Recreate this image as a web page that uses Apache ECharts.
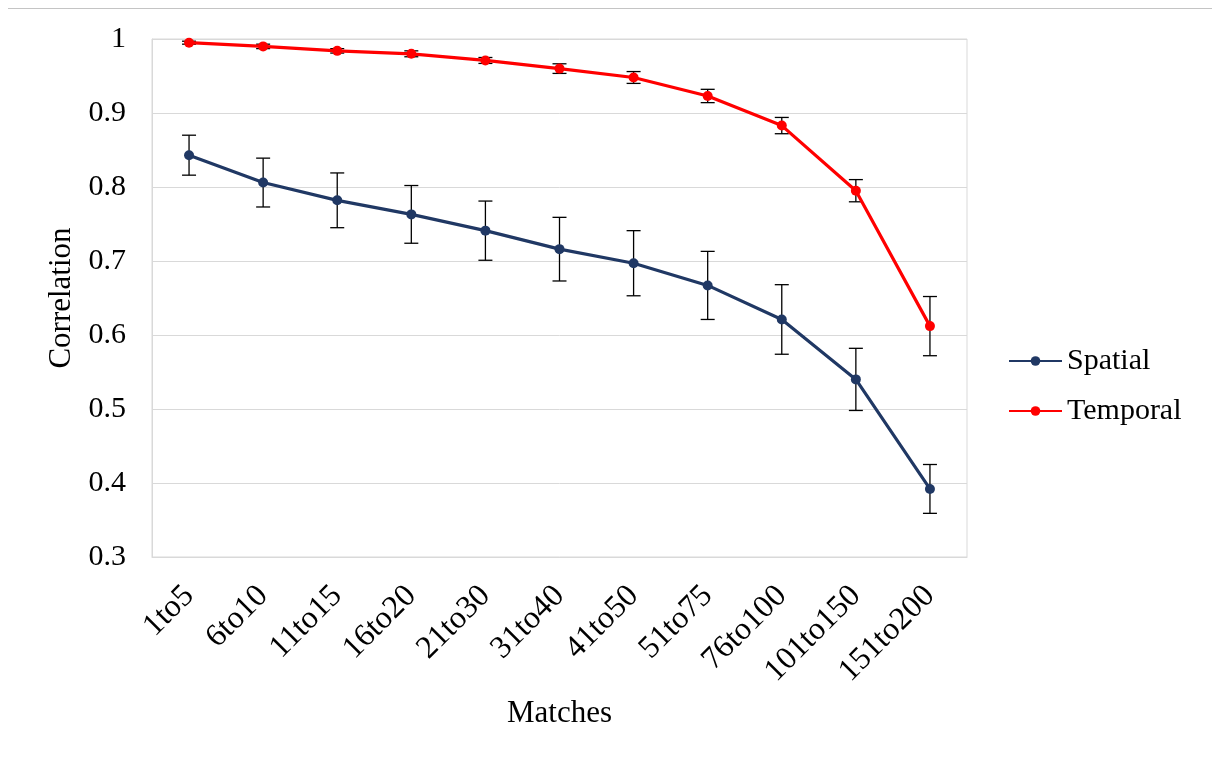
<!DOCTYPE html>
<html>
<head>
<meta charset="utf-8">
<title>Correlation by matches</title>
<script src="https://cdn.jsdelivr.net/npm/echarts@6/dist/echarts.min.js"></script>
<style>
  html, body { margin: 0; padding: 0; background: #ffffff; }
  #chart { width: 1212px; height: 758px; }
</style>
</head>
<body>
<div id="chart"></div>
<script>
// Match-count bins along the x axis
const categories = ['1to5', '6to10', '11to15', '16to20', '21to30', '31to40',
  '41to50', '51to75', '76to100', '101to150', '151to200'];

// Mean correlation per bin
const spatial  = [0.843, 0.806, 0.782, 0.763, 0.741, 0.716, 0.697, 0.667, 0.621, 0.540, 0.392];
const temporal = [0.995, 0.990, 0.984, 0.980, 0.971, 0.960, 0.948, 0.923, 0.883, 0.795, 0.612];

// Half-width of the error bars
const spatialErr  = [0.027, 0.033, 0.037, 0.039, 0.040, 0.043, 0.044, 0.046, 0.047, 0.042, 0.033];
const temporalErr = [0.002, 0.003, 0.003, 0.004, 0.004, 0.0065, 0.008, 0.009, 0.011, 0.015, 0.040];

// Y axis range
const yMin = 0.3, yMax = 1.0, yStep = 0.1;

const FONT = "'Liberation Serif', 'Times New Roman', serif";
const NAVY = '#203864';
const RED = '#ff0000';

function errorData(values, errs) {
  return values.map((v, i) => [i, v - errs[i], v + errs[i]]);
}

// Vertical whisker with horizontal caps
function renderErrorBar(params, api) {
  const x = api.value(0);
  const lo = api.coord([x, api.value(1)]);
  const hi = api.coord([x, api.value(2)]);
  const half = 7;
  const style = { stroke: '#000000', lineWidth: 1.3, fill: null };
  return {
    type: 'group',
    children: [
      { type: 'line', shape: { x1: lo[0], y1: lo[1], x2: hi[0], y2: hi[1] }, style: style },
      { type: 'line', shape: { x1: hi[0] - half, y1: hi[1], x2: hi[0] + half, y2: hi[1] }, style: style },
      { type: 'line', shape: { x1: lo[0] - half, y1: lo[1], x2: lo[0] + half, y2: lo[1] }, style: style }
    ]
  };
}

const chart = echarts.init(document.getElementById('chart'), null, { renderer: 'canvas' });

chart.setOption({
  backgroundColor: '#ffffff',
  animation: false,
  textStyle: { fontFamily: FONT, color: '#000000' },
  graphic: [{
    type: 'line',
    shape: { x1: 8, y1: 8.5, x2: 1212, y2: 8.5 },
    style: { stroke: '#c4c4c4', lineWidth: 1 }
  }],
  grid: {
    left: 152, right: 245, top: 39, bottom: 201,
    show: true, borderColor: '#d9d9d9', borderWidth: 1
  },
  legend: {
    orient: 'vertical',
    left: 1003, top: 341,
    itemWidth: 53, itemHeight: 12, itemGap: 20,
    textStyle: { fontFamily: FONT, fontSize: 30, color: '#000000' },
    data: ['Spatial', 'Temporal']
  },
  xAxis: {
    type: 'category',
    data: categories,
    boundaryGap: true,
    name: 'Matches',
    nameLocation: 'middle',
    nameGap: 141,
    nameTextStyle: { fontFamily: FONT, fontSize: 31, color: '#000000' },
    axisLine: { lineStyle: { color: '#d9d9d9' } },
    axisTick: { show: false },
    axisLabel: {
      rotate: 45, margin: 34, interval: 0,
      fontFamily: FONT, fontSize: 32, color: '#000000'
    }
  },
  yAxis: {
    type: 'value',
    min: yMin, max: yMax, interval: yStep,
    name: 'Correlation',
    nameLocation: 'middle',
    nameGap: 74,
    nameRotate: 90,
    nameTextStyle: { fontFamily: FONT, fontSize: 31, color: '#000000' },
    axisLine: { show: true, lineStyle: { color: '#d9d9d9' } },
    axisTick: { show: false },
    splitLine: { lineStyle: { color: '#d9d9d9' } },
    axisLabel: {
      margin: 26,
      fontFamily: FONT, fontSize: 30, color: '#000000',
      formatter: v => String(parseFloat(v.toFixed(1)))
    }
  },
  series: [
    {
      name: 'Spatial err',
      type: 'custom',
      renderItem: renderErrorBar,
      data: errorData(spatial, spatialErr),
      encode: { x: 0, y: [1, 2] },
      z: 1, silent: true
    },
    {
      name: 'Temporal err',
      type: 'custom',
      renderItem: renderErrorBar,
      data: errorData(temporal, temporalErr),
      encode: { x: 0, y: [1, 2] },
      z: 1, silent: true
    },
    {
      name: 'Spatial',
      type: 'line',
      data: spatial,
      symbol: 'circle', symbolSize: 10,
      lineStyle: { color: NAVY, width: 3.2 },
      itemStyle: { color: NAVY },
      z: 3
    },
    {
      name: 'Temporal',
      type: 'line',
      data: temporal,
      symbol: 'circle', symbolSize: 10,
      lineStyle: { color: RED, width: 3.2 },
      itemStyle: { color: RED },
      z: 3
    }
  ]
});
</script>
</body>
</html>
